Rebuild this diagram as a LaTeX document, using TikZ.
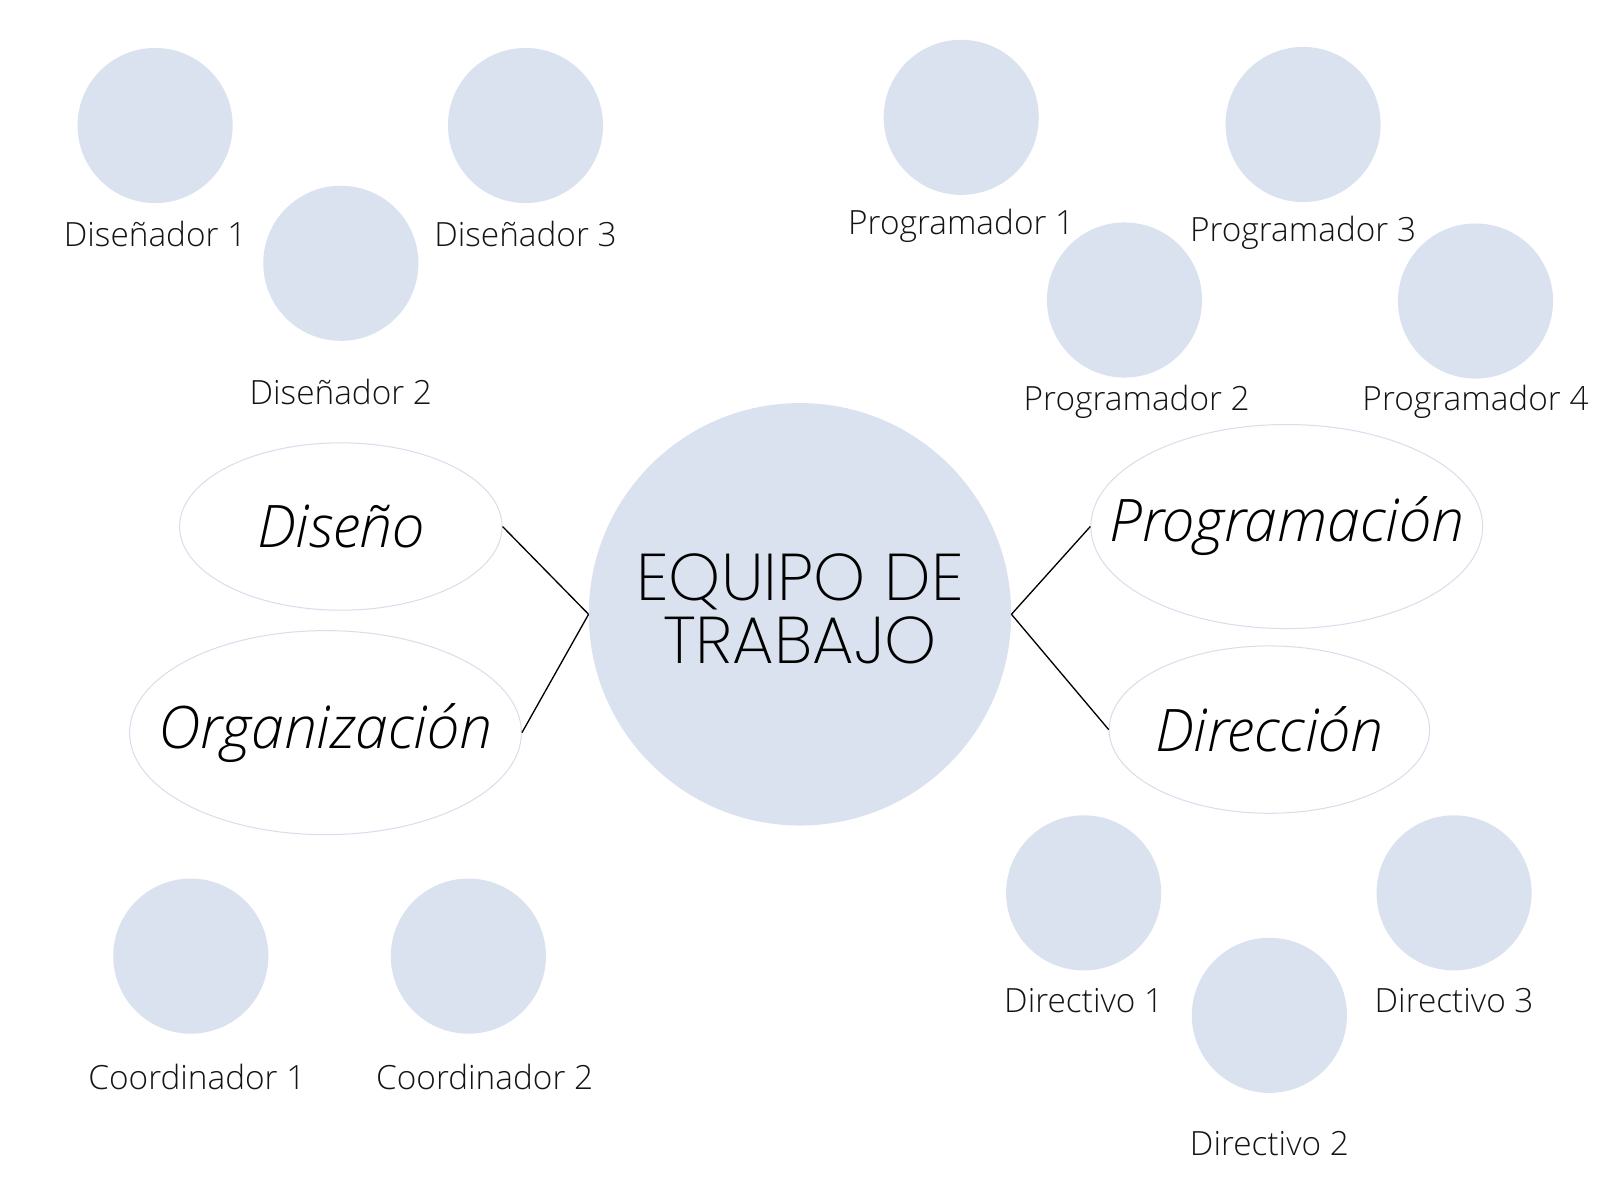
\documentclass[tikz,border=0pt]{standalone}
\usepackage{fontspec}
\setmainfont{Open Sans}[UprightFont={* Light}, ItalicFont={* Light Italic}]
\newfontfamily\titlefont{Poppins}[UprightFont={* ExtraLight}]
\usetikzlibrary{shapes.geometric}
\definecolor{bubble}{HTML}{DAE2EF}
\definecolor{rim}{HTML}{D8DEEA}
\tikzset{
  member/.style={circle, fill=bubble, minimum size=152pt, inner sep=0pt},
  mlabel/.style={font=\fontsize{32.7}{38}\selectfont, text=black!92, inner sep=0pt},
  area/.style={ellipse, draw=rim, line width=1pt, fill=white, inner sep=0pt},
  areatext/.style={inner sep=0pt, font=\fontsize{57.5}{66}\selectfont\itshape, text=black},
  link/.style={draw=black, line width=1.3pt},
}
\begin{document}
\begin{tikzpicture}[x=1pt,y=-1pt]
\useasboundingbox (0,0) rectangle (1568,1176);
\fill[white] (0,0) rectangle (1568,1176);
% centre
\node[circle, fill=bubble, minimum size=414pt, inner sep=0pt] (core) at (784,602) {};
\node[align=center, inner sep=0pt, font=\titlefont\fontsize{64.8}{62}\selectfont] (title) at (784,597) {EQUIPO DE\\TRABAJO};
% areas
\node[area, minimum width=316pt, minimum height=164pt] (dis) at (334,516) {};
\node[area, minimum width=384pt, minimum height=200pt] (org) at (319,718) {};
\node[area, minimum width=384pt, minimum height=200pt] (prog) at (1261,516) {};
\node[area, minimum width=314pt, minimum height=164pt] (dir) at (1244,715) {};
\node[areatext] (tdis) at (dis) {Diseño};
\node[areatext] (torg) at (org) {Organización};
\node[areatext] (tprog) at (prog) {Programación};
\node[areatext] (tdir) at (dir) {Dirección};
\draw[link] (core.west) -- (dis.east);
\draw[link] (core.west) -- (org.east);
\draw[link] (core.east) -- (prog.west);
\draw[link] (core.east) -- (dir.west);
% members
\node[member] (d1) at (152,123) {};
\node[member] (d3) at (515,123) {};
\node[member] (d2) at (334,258) {};
\node[mlabel] (ld1) at (152,229) {Diseñador 1};
\node[mlabel] (ld3) at (515,229) {Diseñador 3};
\node[mlabel] (ld2) at (334,384) {Diseñador 2};
\node[member] (p1) at (942,115) {};
\node[member] (p3) at (1277,122) {};
\node[member] (p2) at (1102,294) {};
\node[member] (p4) at (1446,295) {};
\node[mlabel] (lp1) at (942,221) {Programador 1};
\node[mlabel] (lp3) at (1277,228) {Programador 3};
\node[mlabel] (lp2) at (1114,394) {Programador 2};
\node[mlabel] (lp4) at (1446,394) {Programador 4};
\node[member] (r1) at (1062,875) {};
\node[member] (r3) at (1425,875) {};
\node[member] (r2) at (1244,995) {};
\node[mlabel] (lr1) at (1062,981) {Directivo 1};
\node[mlabel] (lr3) at (1425,981) {Directivo 3};
\node[mlabel] (lr2) at (1244,1121) {Directivo 2};
\node[member] (c1) at (187,937) {};
\node[member] (c2) at (459,937) {};
\node[mlabel] (lc1) at (193,1055) {Coordinador 1};
\node[mlabel] (lc2) at (475,1055) {Coordinador 2};
\end{tikzpicture}
\end{document}
